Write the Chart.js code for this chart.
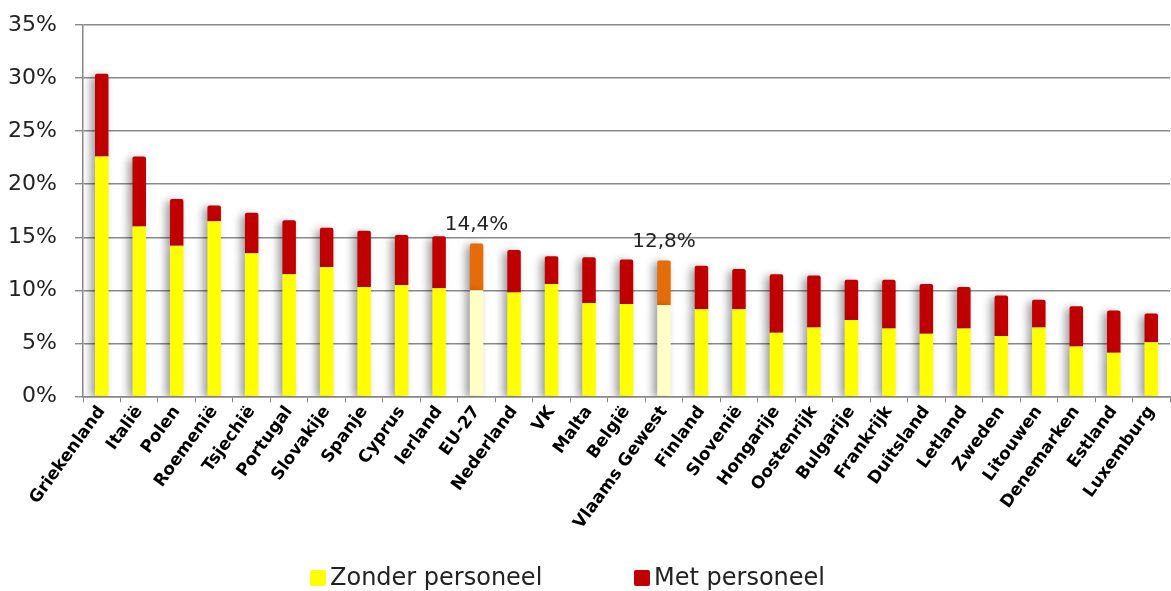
<!DOCTYPE html>
<html>
<head>
<meta charset="utf-8">
<script src="https://cdn.jsdelivr.net/npm/chart.js@4"></script>
<style>
  html, body { margin: 0; padding: 0; background: #fff; }
  .wrap { width: 1171px; height: 591px; position: relative; }
  .legend { position: absolute; top: 563px; left: 0; width: 1171px; height: 28px;
            font: 24px "DejaVu Sans", sans-serif; color: #222; }
  .legend span.item { position: absolute; top: 0; white-space: nowrap; }
  .legend i { display: inline-block; width: 16px; height: 16px; margin-right: 4px;
              vertical-align: -1px; border-radius: 2px; }
</style>
</head>
<body>
<div class="wrap">
  <canvas id="chart"></canvas>
  <div class="legend" id="legend"></div>
</div>
<script>
const landen = [
    'Griekenland', 'Italië', 'Polen', 'Roemenië', 'Tsjechië', 'Portugal', 'Slovakije',
    'Spanje', 'Cyprus', 'Ierland', 'EU-27', 'Nederland', 'VK', 'Malta', 'België',
    'Vlaams Gewest', 'Finland', 'Slovenië', 'Hongarije', 'Oostenrijk', 'Bulgarije',
    'Frankrijk', 'Duitsland', 'Letland', 'Zweden', 'Litouwen', 'Denemarken', 'Estland',
    'Luxemburg'
];

// % zelfstandigen zonder personeel
const zonderPersoneel = [
    22.6, 16.0, 14.2, 16.5, 13.5, 11.5, 12.2, 10.3, 10.5, 10.2, 10.0, 9.8, 10.6, 8.8, 8.7,
    8.6, 8.2, 8.2, 6.0, 6.5, 7.2, 6.4, 5.9, 6.4, 5.7, 6.5, 4.7, 4.1, 5.1
];

// % zelfstandigen met personeel
const metPersoneel = [
    7.8, 6.6, 4.4, 1.5, 3.8, 5.1, 3.7, 5.3, 4.7, 4.9, 4.4, 4.0, 2.6, 4.3, 4.2,
    4.2, 4.1, 3.8, 5.5, 4.9, 3.8, 4.6, 4.7, 3.9, 3.8, 2.6, 3.8, 4.0, 2.7
];

const yTicks = [0, 5, 10, 15, 20, 25, 30, 35];

// EU-27 en Vlaams Gewest krijgen een andere kleur en een label
const uitgelicht = ['EU-27', 'Vlaams Gewest'];

const geelKleuren = landen.map(l => uitgelicht.includes(l) ? '#FFFFC6' : '#FFFF00');
const roodKleuren = landen.map(l => uitgelicht.includes(l) ? '#E46C0A' : '#C00000');

const shadowPlugin = {
    id: 'barShadow',
    beforeDatasetsDraw(chart) {
        const c = chart.ctx;
        c.save();
        c.shadowColor = 'rgba(0,0,0,0.4)';
        c.shadowBlur = 8;
        c.shadowOffsetX = -4;
        c.shadowOffsetY = 2;
    },
    afterDatasetsDraw(chart) {
        chart.ctx.restore();
    }
};

const totaalLabels = {
    id: 'totaalLabels',
    afterDatasetsDraw(chart) {
        const c = chart.ctx;
        const meta = chart.getDatasetMeta(1);
        c.save();
        c.font = '20px "DejaVu Sans", sans-serif';
        c.fillStyle = '#222';
        c.textAlign = 'center';
        c.textBaseline = 'bottom';
        landen.forEach((l, i) => {
            if (!uitgelicht.includes(l)) return;
            const bar = meta.data[i];
            const totaal = zonderPersoneel[i] + metPersoneel[i];
            c.fillText(totaal.toFixed(1).replace('.', ',') + '%', bar.x, bar.y - 9);
        });
        c.restore();
    }
};

const ctx = document.getElementById('chart');

var chart = new Chart(ctx, {
    type: 'bar',
    data: {
        labels: landen,
        datasets: [{
            label: 'Zonder personeel',
            data: zonderPersoneel,
            backgroundColor: geelKleuren,
            categoryPercentage: 1,
            barPercentage: 0.36
        }, {
            label: 'Met personeel',
            data: metPersoneel,
            backgroundColor: roodKleuren,
            borderRadius: { topLeft: 2, topRight: 2, bottomLeft: 0, bottomRight: 0 },
            borderSkipped: false,
            categoryPercentage: 1,
            barPercentage: 0.36
        }]
    },
    options: {
        responsive: true,
        maintainAspectRatio: false,
        animation: false,
        layout: {
            padding: { top: 25, left: 8, right: 1, bottom: 58 }
        },
        plugins: {
            tooltip: { enabled: false },
            legend: { display: false }
        },
        scales: {
            x: {
                stacked: true,
                afterFit(axis) {
                    // the rotated first label may hang left of the plot
                    axis.paddingLeft = 0;
                    axis.paddingRight = 0;
                },
                border: { display: true, color: '#888', width: 1.5 },
                grid: {
                    offset: true,
                    drawOnChartArea: false,
                    drawTicks: true,
                    tickLength: 6,
                    color: '#888'
                },
                ticks: {
                    color: '#000',
                    maxRotation: 54,
                    minRotation: 54,
                    autoSkip: false,
                    padding: 0,
                    font: { size: 17, weight: 'bold', family: '"DejaVu Sans", sans-serif' }
                }
            },
            y: {
                stacked: true,
                min: 0,
                max: 35,
                afterBuildTicks(axis) {
                    axis.ticks = yTicks.map(v => ({ value: v }));
                },
                afterFit(axis) {
                    axis.width = 75;
                    axis.paddingTop = 0;
                    axis.paddingBottom = 0;
                },
                border: { display: true, color: '#888', width: 1.5 },
                grid: {
                    color: '#8a8a8a',
                    lineWidth: 1.4,
                    drawTicks: true,
                    tickLength: 8
                },
                ticks: {
                    color: '#222',
                    padding: 18,
                    font: { size: 22, family: '"DejaVu Sans", sans-serif' },
                    callback: v => v + '%'
                }
            }
        }
    },
    plugins: [shadowPlugin, totaalLabels]
});

// legend below the chart, from the dataset labels and colours
const legendEl = document.getElementById('legend');
const legendLeft = [310, 634];
chart.data.datasets.forEach((ds, i) => {
    const item = document.createElement('span');
    item.className = 'item';
    item.style.left = legendLeft[i] + 'px';
    item.innerHTML = '<i style="background:' + ds.backgroundColor[0] + '"></i>' + ds.label;
    legendEl.appendChild(item);
});
</script>
</body>
</html>
